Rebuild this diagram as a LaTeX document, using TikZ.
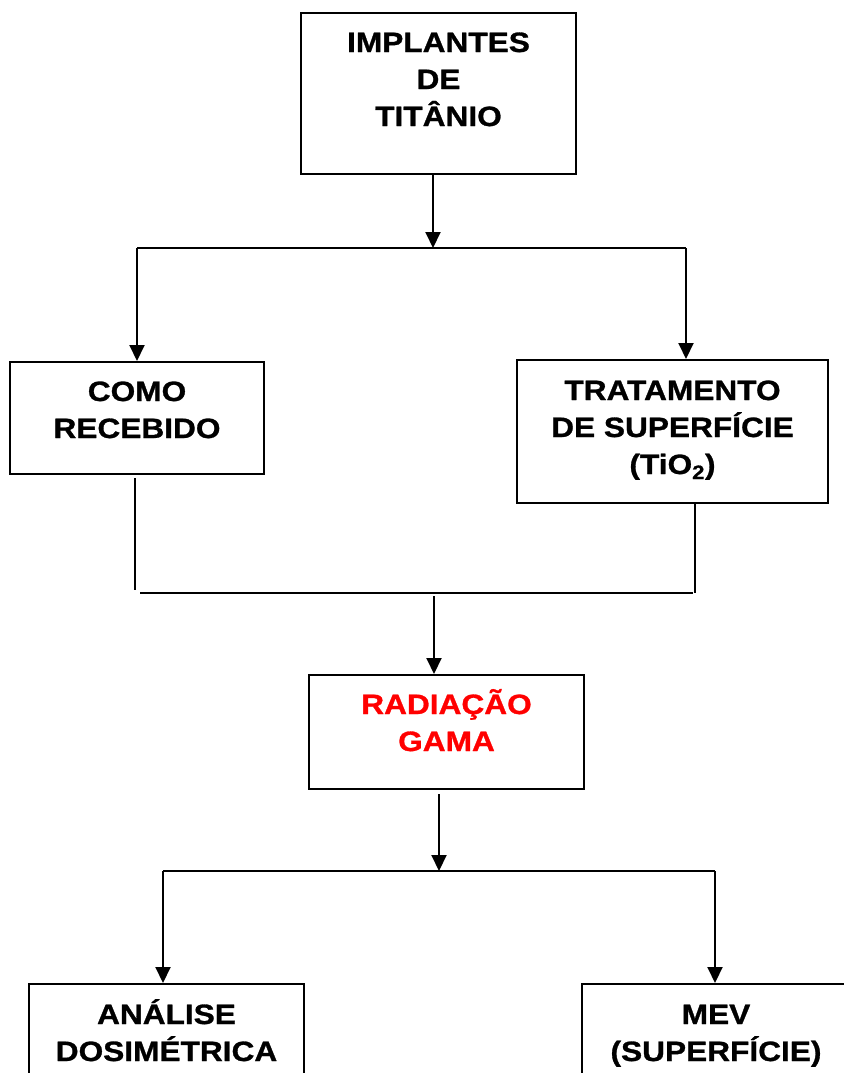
\documentclass[tikz,border=0pt]{standalone}
\usepackage{fontspec}
\setmainfont{Liberation Sans}[FakeStretch=1.13, FakeBold=1]
\usetikzlibrary{arrows.meta}

\begin{document}
\begin{tikzpicture}[x=1pt, y=-1pt,
		caixa/.style={draw, line width=2pt, align=center, inner sep=0pt, text depth=0pt,
			font=\bfseries\fontsize{28}{37}\selectfont},
		seta/.style={line width=2pt, -{Triangle[width=15pt,length=16pt]}},
		linha/.style={line width=2pt}]
	\useasboundingbox (0,0) rectangle (843,1073);
	\node[caixa, minimum width=275pt, minimum height=161pt, text height=65pt] (impl) at (438.5,93.5) {IMPLANTES\\DE\\TITÂNIO};
	\node[caixa, minimum width=254pt, minimum height=112pt, text height=40pt] (como) at (137,418) {COMO\\RECEBIDO};
	\node[caixa, minimum width=311pt, minimum height=143pt, text height=85pt] (trat) at (672.5,431.5) {TRATAMENTO\\DE SUPERFÍCIE\\(TiO\textsubscript{2})};
	\node[caixa, red, draw=black, minimum width=275pt, minimum height=114pt, text height=38pt] (rad) at (446.5,732) {RADIAÇÃO\\GAMA};
	\node[caixa, minimum width=275pt, minimum height=114pt, text height=40pt] (anal) at (166.5,1041) {ANÁLISE\\DOSIMÉTRICA};
	\node[caixa, minimum width=268pt, minimum height=114pt, text height=40pt] (mev) at (716,1041) {MEV\\(SUPERFÍCIE)};
	\coordinate (s1) at (433,248);
	\coordinate (e1) at (137,248);
	\coordinate (d1) at (686,248);
	\coordinate (j1) at (135,593);
	\coordinate (j2) at (695,593);
	\coordinate (s2) at (434,593);
	\coordinate (s3) at (439,871);
	\coordinate (e3) at (163,871);
	\coordinate (d3) at (715,871);
	\draw[seta] (impl.south -| s1) -- (s1);
	\draw[linha] (e1) -- (d1);
	\draw[linha, shorten <=3pt, shorten >=3pt] (j1 |- como.south) -- (j1);
	\draw[linha, shorten <=5pt, shorten >=2pt] (j1) -- (j2);
	\draw[linha] (j2 |- trat.south) -- (j2);
	\draw[seta, shorten <=3pt] (s2) -- (s2 |- rad.north);
	\draw[seta, shorten <=4pt] (rad.south -| s3) -- (s3);
	\draw[linha] (e3) -- (d3);
	\foreach \c/\n in {e1/como, d1/trat, e3/anal, d3/mev}
		\draw[seta] (\c) -- (\c |- \n.north);
\end{tikzpicture}
\end{document}
